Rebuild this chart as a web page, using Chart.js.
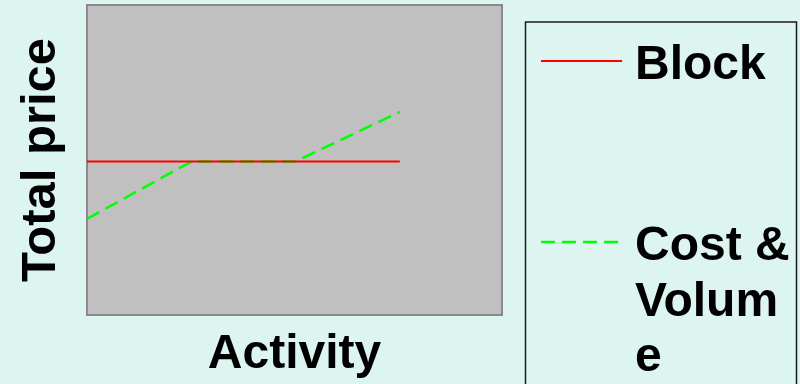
<!DOCTYPE html>
<html>
<head>
<meta charset="utf-8">
<script src="https://cdn.jsdelivr.net/npm/chart.js@4/dist/chart.umd.min.js"></script>
<style>
  html, body { margin: 0; padding: 0; background: #ddf5f1; }
  #wrap { width: 800px; height: 384px; }
</style>
</head>
<body>
<div id="wrap"><canvas id="c" width="800" height="384"></canvas></div>
<script>
// Activity levels and the total price under each pricing scheme
const activity = [0, 1, 2, 3];
const blockPrice = [4.95, 4.95, 4.95, 4.95];
const costVolumePrice = [3.1, 4.95, 4.95, 6.55];
const seriesNames = ['Block', 'Cost & Volume'];
// legend label broken into lines as it is set in the key box
const legendLines = [['Block'], ['Cost &', 'Volum', 'e']];

const FONT = '"Liberation Sans", Arial, Helvetica, sans-serif';
const toPoints = ys => activity.map((x, i) => ({ x, y: ys[i] }));

// grey plotting panel behind the lines
const panel = {
  id: 'panel',
  beforeDatasetsDraw(chart) {
    const { ctx, chartArea: a } = chart;
    ctx.save();
    ctx.fillStyle = '#c0c0c0';
    ctx.fillRect(a.left, a.top, a.right - a.left, a.bottom - a.top);
    ctx.strokeStyle = '#8a8a8a';
    ctx.lineWidth = 2;
    ctx.strokeRect(a.left, a.top, a.right - a.left, a.bottom - a.top);
    ctx.restore();
  }
};

// boxed key on the right, with wrapped labels
const keyBox = {
  id: 'keyBox',
  afterDraw(chart) {
    const ctx = chart.ctx;
    ctx.save();
    ctx.strokeStyle = '#1a1a1a';
    ctx.lineWidth = 1.5;
    ctx.strokeRect(525.5, 22, 271, 400);
    const rows = [61, 242];
    chart.data.datasets.forEach((ds, i) => {
      const y = rows[i];
      ctx.strokeStyle = ds.borderColor;
      ctx.lineWidth = ds.borderWidth;
      ctx.setLineDash(ds.borderDash || []);
      ctx.beginPath();
      ctx.moveTo(541, y);
      ctx.lineTo(622, y);
      ctx.stroke();
      ctx.setLineDash([]);
      ctx.fillStyle = '#000';
      ctx.font = 'bold 48px ' + FONT;
      ctx.textBaseline = 'alphabetic';
      legendLines[i].forEach((t, k) => {
        ctx.fillText(t, 635, y + 18 + k * 55.5);
      });
    });
    ctx.restore();
  }
};

new Chart(document.getElementById('c'), {
  type: 'line',
  data: {
    datasets: [
      {
        label: seriesNames[0],
        data: toPoints(blockPrice),
        borderColor: '#ff0000',
        borderWidth: 2,
        pointRadius: 0,
        tension: 0,
        fill: false
      },
      {
        label: seriesNames[1],
        data: toPoints(costVolumePrice),
        borderColor: '#00ff00',
        borderWidth: 2.5,
        borderDash: [14, 7],
        pointRadius: 0,
        tension: 0,
        fill: false
      }
    ]
  },
  options: {
    responsive: false,
    animation: false,
    layout: { padding: { left: 0, top: 5, right: 298, bottom: 0 } },
    plugins: { legend: { display: false }, tooltip: { enabled: false } },
    scales: {
      x: {
        type: 'linear',
        min: 0,
        max: 3.98,
        grid: { display: false },
        border: { display: false },
        ticks: { display: false },
        title: {
          display: true,
          text: 'Activity',
          color: '#000',
          font: { family: FONT, size: 48, weight: 'bold', lineHeight: 1.2 },
          padding: { top: 3.4, bottom: 0 }
        }
      },
      y: {
        min: 0,
        max: 10,
        grid: { display: false },
        border: { display: false },
        ticks: { display: false },
        title: {
          display: true,
          text: 'Total price',
          color: '#000',
          font: { family: FONT, size: 49, weight: 'bold', lineHeight: 1.2 },
          padding: { top: 11.6, bottom: 8.6 }
        }
      }
    }
  },
  plugins: [panel, keyBox]
});
</script>
</body>
</html>
